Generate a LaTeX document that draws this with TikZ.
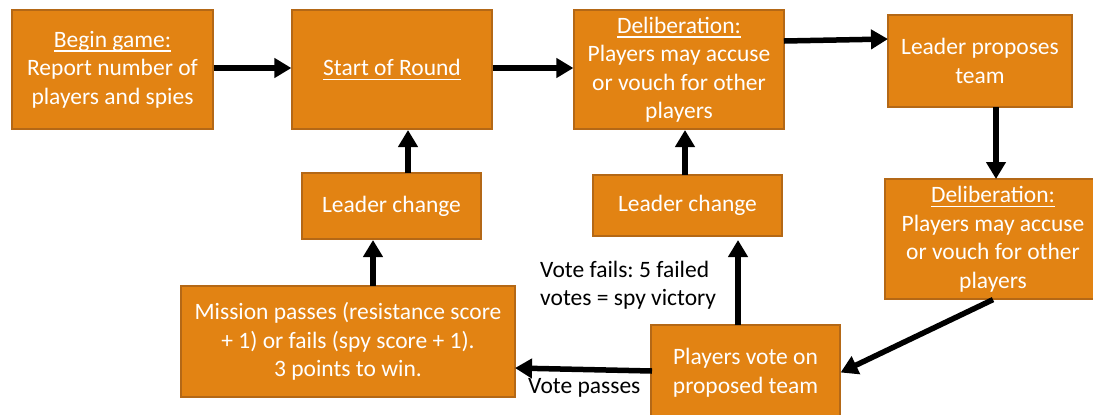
\documentclass[tikz,border=0pt]{standalone}
\usepackage{fontspec}
\setmainfont{Carlito}
\frenchspacing
\usetikzlibrary{arrows.meta,calc}
\definecolor{boxfill}{RGB}{226,131,19}
\definecolor{boxline}{RGB}{180,104,22}
% underlined heading inside a box
\newcommand\headul[1]{\setbox0\hbox{#1}\rlap{\rule[-4.5bp]{\wd0}{1.3bp}}\box0}
\tikzset{
  stepbox/.style={draw=boxline, line width=1.2bp, fill=boxfill, text=white,
    inner sep=0pt, align=center, font=\fontsize{23.5bp}{28.5bp}\selectfont},
  flow/.style={line width=5.5bp, draw=black,
    -{Triangle[width=19bp,length=17bp]}},
  note/.style={text=black, align=left, inner sep=0pt,
    font=\fontsize{23.5bp}{28.5bp}\selectfont},
}
\begin{document}
\begin{tikzpicture}[x=1bp,y=-1bp]
\useasboundingbox (0,0) rectangle (1093,414);
\clip (0,0) rectangle (1093,414);
\fill[white] (0,0) rectangle (1093,414);

% boxes
\node[stepbox, minimum width=201bp, minimum height=119bp] (begin) at (112.5,69.5)
  {\headul{Begin game:}\\Report number of\\players and spies};
\node[stepbox, minimum width=200bp, minimum height=119bp] (start) at (392,69.5)
  {\headul{Start of Round}};
\node[stepbox, minimum width=210bp, minimum height=119bp] (delibA) at (679,69.5)
  {\headul{Deliberation:}\\Players may accuse\\or vouch for other\\players};
\node[stepbox, minimum width=184bp, minimum height=92bp] (propose) at (980,61)
  {Leader proposes\\team};
\node[stepbox, minimum width=216bp, minimum height=120bp] (delibB) at (993,239)
  {\headul{Deliberation:}\\Players may accuse\\or vouch for other\\players};
\node[stepbox, minimum width=189bp, minimum height=61bp] (changeB) at (687.5,205.5)
  {Leader change};
\node[stepbox, minimum width=179bp, minimum height=66bp] (changeA) at (391.5,206)
  {Leader change};
\node[stepbox, minimum width=334bp, minimum height=111bp] (mission) at (348,341.5)
  {Mission passes (resistance score\\+ 1) or fails (spy score + 1).\\3 points to win.};
\node[stepbox, minimum width=189bp, minimum height=95bp] (vote) at (745.5,372.5)
  {Players vote on\\proposed team};

% labels
\node[note, anchor=west] (failnote) at (540,285)
  {Vote fails: 5 failed\\votes = spy victory};
\node[note, anchor=west] (passnote) at (528,388) {Vote passes};

% connector ends
\coordinate (dAout) at (784,41);
\coordinate (propin) at (888,39);
\coordinate (propout) at (996,107);
\coordinate (dBin) at (996,179);
\coordinate (voteup) at (738,325);
\coordinate (cBin) at (738,240);
\coordinate (cBout) at (685,175);
\coordinate (dAin) at (685,130);
\coordinate (voteleft) at (652,371);
\coordinate (missin) at (515,368);
\coordinate (missout) at (373,286);
\coordinate (cAin) at (373,240);
\coordinate (cAout) at (408,173);
\coordinate (startin) at (408,130);

% connectors
\draw[flow] (begin.east |- 0,68) -- (start.west |- 0,68);
\draw[flow] (start.east |- 0,68) -- (delibA.west |- 0,68);
\draw[flow] (dAout) -- (propin);
\draw[flow] (propout) -- (dBin);
\draw[flow] (delibB.south) -- (vote.east);
\draw[flow] (voteup) -- (cBin);
\draw[flow] (cBout) -- (dAin);
\draw[flow] (voteleft) -- (missin);
\draw[flow] (missout) -- (cAin);
\draw[flow] (cAout) -- (startin);
\end{tikzpicture}
\end{document}
